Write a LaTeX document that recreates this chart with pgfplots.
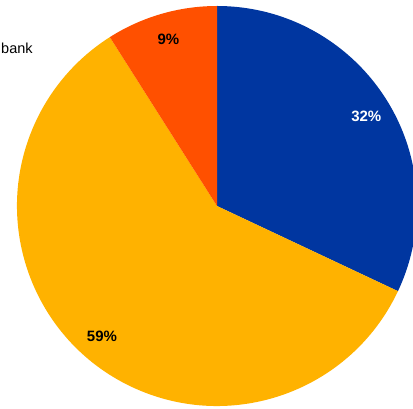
\documentclass[border=0pt]{standalone}
\usepackage{pgfplots}
\usepackage{pgfplotstable}
\pgfplotsset{compat=1.18}
\usepackage{fontspec}
\setmainfont{Liberation Sans}
\definecolor{cblue}{RGB}{0,54,160}
\definecolor{cyellow}{RGB}{255,178,0}
\definecolor{cred}{RGB}{255,80,0}
\pgfplotstableread{
label value
A 32
B 59
C 9
}\piedata
\begin{document}
\begin{tikzpicture}[x=1pt,y=1pt]
\path[use as bounding box] (0,0) rectangle (413,409);
\clip (0,0) rectangle (413,409);
\pgfplotstablegetelem{0}{value}\of\piedata \edef\va{\pgfplotsretval}
\pgfplotstablegetelem{1}{value}\of\piedata \edef\vb{\pgfplotsretval}
\pgfplotstablegetelem{2}{value}\of\piedata \edef\vc{\pgfplotsretval}
\pgfmathsetmacro{\aA}{90}
\pgfmathsetmacro{\aB}{90-3.6*\va}
\pgfmathsetmacro{\aC}{\aB-3.6*\vb}
\pgfmathsetmacro{\aD}{\aC-3.6*\vc}
\pgfmathsetmacro{\mA}{(\aA+\aB)/2-1.5}
\pgfmathsetmacro{\mB}{(\aB+\aC)/2}
\pgfmathsetmacro{\mC}{(\aC+\aD)/2}
\begin{axis}[at={(217pt,203pt)}, anchor=center, scale only axis,
  width=400pt, height=400pt, xmin=-1, xmax=1, ymin=-1, ymax=1,
  hide axis, clip=false]
\addplot[draw=none] coordinates {(0,0)};
\fill[cblue] (axis cs:0,0) -- ++(\aA:200pt) arc[start angle=\aA, end angle=\aB, radius=200pt] -- cycle;
\fill[cyellow] (axis cs:0,0) -- ++(\aB:200pt) arc[start angle=\aB, end angle=\aC, radius=200pt] -- cycle;
\fill[cred] (axis cs:0,0) -- ++(\aC:200pt) arc[start angle=\aC, end angle=\aD, radius=200pt] -- cycle;
\node[text=white, font=\fontsize{15}{18}\selectfont\bfseries] at (axis cs:{0.87*cos(\mA)},{0.87*sin(\mA)}) {\va\%};
\node[text=black, font=\fontsize{15}{18}\selectfont\bfseries] at (axis cs:{0.87*cos(\mB)},{0.87*sin(\mB)}) {\vb\%};
\node[text=black, font=\fontsize{15}{18}\selectfont\bfseries] at (axis cs:{0.87*cos(\mC)},{0.87*sin(\mC)}) {\vc\%};
\end{axis}
\node[anchor=west, inner sep=0pt, font=\fontsize{14.5}{17}\selectfont] at (1,361) {bank};
\end{tikzpicture}
\end{document}
